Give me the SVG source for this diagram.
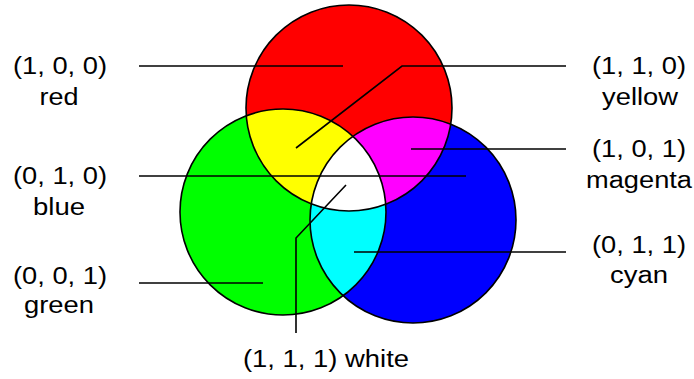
<svg xmlns="http://www.w3.org/2000/svg" width="694" height="379" viewBox="0 0 694 379">
<style>
.lbl{font-family:"Liberation Sans",Arial,sans-serif;font-size:23px;fill:#000;text-anchor:middle}
.out{fill:none;stroke:#000;stroke-width:1.6}
.con{fill:none;stroke:#000;stroke-width:1.6}
</style>
<defs>
<clipPath id="cr"><circle cx="349" cy="108" r="103"/></clipPath>
<clipPath id="cg"><circle cx="283" cy="212" r="103"/></clipPath>
<clipPath id="cb"><circle cx="413" cy="220" r="103"/></clipPath>
</defs>
<rect width="694" height="379" fill="#fff"/>
<g id="green-circle"><circle cx="283" cy="212" r="103" fill="#00ff00"/></g>
<g id="blue-circle"><circle cx="413" cy="220" r="103" fill="#0000ff"/></g>
<g id="red-circle"><circle cx="349" cy="108" r="103" fill="#ff0000"/></g>
<g id="yellow-region"><circle cx="283" cy="212" r="103" fill="#ffff00" clip-path="url(#cr)"/></g>
<g id="magenta-region"><circle cx="413" cy="220" r="103" fill="#ff00ff" clip-path="url(#cr)"/></g>
<g id="cyan-region"><circle cx="413" cy="220" r="103" fill="#00ffff" clip-path="url(#cg)"/></g>
<g id="white-region"><g clip-path="url(#cr)"><circle cx="413" cy="220" r="103" fill="#ffffff" clip-path="url(#cg)"/></g></g>
<g id="outlines">
<circle class="out" cx="283" cy="212" r="103"/>
<circle class="out" cx="413" cy="220" r="103"/>
<circle class="out" cx="349" cy="108" r="103"/>
</g>
<g id="connectors">
<path class="con" d="M139 66H343"/>
<path class="con" d="M566 66H402L296 148"/>
<path class="con" d="M566 149H411"/>
<path class="con" d="M139 176H466"/>
<path class="con" d="M566 252H354"/>
<path class="con" d="M139 283H263"/>
<path class="con" d="M346 185L296 238V333"/>
</g>
<g id="label-red"><text class="lbl" x="60" y="74" textLength="94" lengthAdjust="spacingAndGlyphs">(1, 0, 0)</text><text class="lbl" x="59" y="105" textLength="39" lengthAdjust="spacingAndGlyphs">red</text></g>
<g id="label-blue"><text class="lbl" x="60" y="184" textLength="94" lengthAdjust="spacingAndGlyphs">(0, 1, 0)</text><text class="lbl" x="59" y="215" textLength="52" lengthAdjust="spacingAndGlyphs">blue</text></g>
<g id="label-green"><text class="lbl" x="60" y="284" textLength="94" lengthAdjust="spacingAndGlyphs">(0, 0, 1)</text><text class="lbl" x="59" y="313" textLength="70" lengthAdjust="spacingAndGlyphs">green</text></g>
<g id="label-yellow"><text class="lbl" x="639" y="74" textLength="94" lengthAdjust="spacingAndGlyphs">(1, 1, 0)</text><text class="lbl" x="640" y="105" textLength="76" lengthAdjust="spacingAndGlyphs">yellow</text></g>
<g id="label-magenta"><text class="lbl" x="639" y="157" textLength="94" lengthAdjust="spacingAndGlyphs">(1, 0, 1)</text><text class="lbl" x="639" y="188" textLength="106" lengthAdjust="spacingAndGlyphs">magenta</text></g>
<g id="label-cyan"><text class="lbl" x="639" y="253" textLength="94" lengthAdjust="spacingAndGlyphs">(0, 1, 1)</text><text class="lbl" x="639" y="283" textLength="58" lengthAdjust="spacingAndGlyphs">cyan</text></g>
<g id="label-white"><text class="lbl" x="326" y="367" textLength="166" lengthAdjust="spacingAndGlyphs">(1, 1, 1) white</text></g>
</svg>
